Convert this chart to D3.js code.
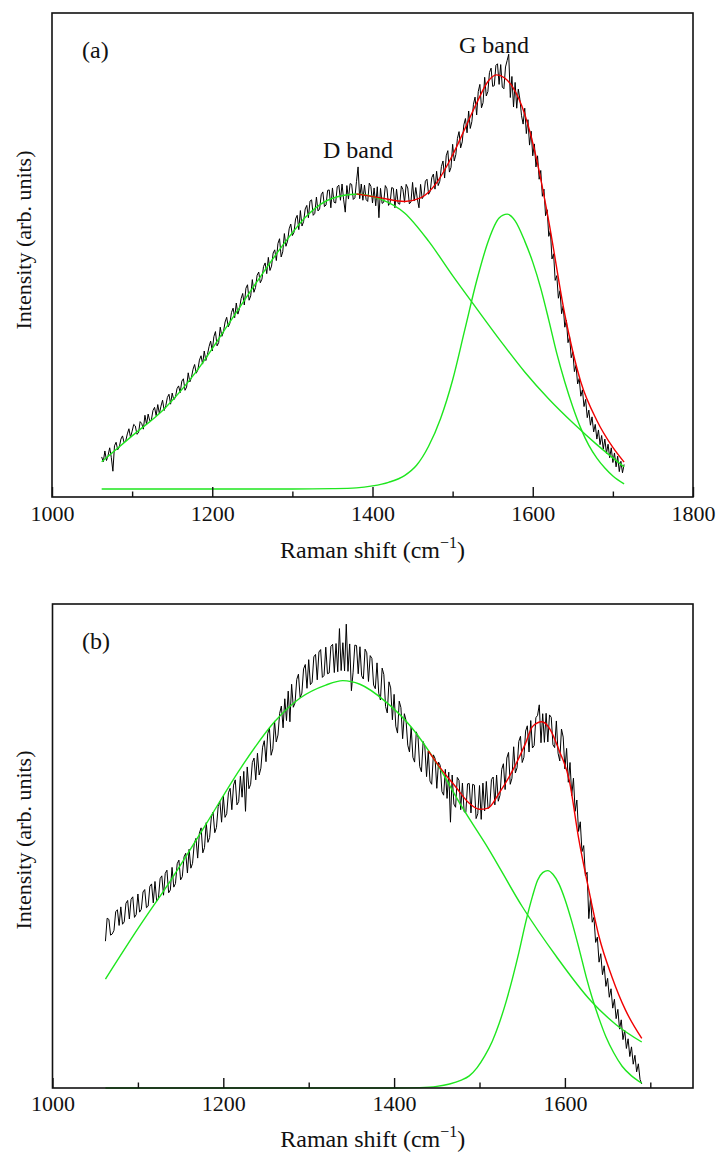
<!DOCTYPE html>
<html>
<head>
<meta charset="utf-8">
<script src="https://cdn.jsdelivr.net/npm/d3@7"></script>
<style>
  body { margin: 0; background: #fff; }
  svg text { font-family: "Liberation Serif", Tinos, "Times New Roman", Times, "DejaVu Serif", "Noto Serif", serif; fill: #111; }
</style>
</head>
<body>
<svg id="chart" width="720" height="1154"></svg>
<script>
// raman spectra, two panels, each with D / G band fits
const FONT = '"Liberation Serif", Tinos, "Times New Roman", Times, "DejaVu Serif", "Noto Serif", serif';

// panel (a) measured spectrum, one value every 2 cm-1 from 1062
const startA = 1062;
const spectrumA = [
  8.1, 6.9, 9.6, 7.2,
  8.5, 10.4, 8.0, 4.5, 10.9,
  11.8, 9.9, 10.6, 12.6, 13.4,
  11.7, 12.1, 13.9, 15.2, 13.0,
  14.6, 16.3, 15.9, 13.8, 14.2,
  17.0, 16.5, 15.1, 18.6, 16.3,
  18.9, 17.2, 17.4, 19.8, 20.6,
  18.5, 21.3, 19.0, 20.9, 22.4,
  19.8, 21.0, 23.1, 23.9, 21.4,
  24.2, 22.5, 23.1, 25.3, 26.0,
  24.3, 27.2, 27.8, 24.9, 25.7,
  29.3, 27.0, 28.1, 30.2, 31.4,
  29.2, 30.0, 32.5, 33.6, 31.5,
  34.8, 32.4, 33.9, 35.9, 37.3,
  34.8, 38.4, 39.7, 36.1, 36.9,
  40.8, 38.5, 39.6, 42.1, 43.3,
  40.9, 41.8, 44.5, 45.6, 43.2,
  46.9, 44.1, 45.5, 48.0, 49.3,
  46.4, 50.6, 51.5, 47.6, 48.7,
  52.8, 49.6, 50.8, 53.9, 54.7,
  52.0, 52.9, 56.1, 57.0, 54.3,
  58.4, 55.1, 56.2, 59.5, 60.3,
  57.6, 61.9, 63.1, 58.5, 59.8,
  64.4, 61.2, 62.5, 65.6, 66.8,
  63.9, 64.7, 68.1, 69.0, 65.4,
  70.2, 66.3, 67.4, 70.6, 71.5,
  68.4, 72.6, 72.9, 69.0, 69.5,
  73.6, 70.1, 70.6, 74.2, 74.9,
  71.2, 71.6, 75.3, 75.4, 70.9,
  75.9, 72.3, 72.1, 76.2, 76.6,
  72.8, 76.9, 72.9, 69.8, 76.5,
  73.1, 77.0, 76.8, 73.0, 73.4,
  77.5, 81.2, 73.2, 76.9, 72.8,
  76.6, 73.0, 72.5, 77.1, 76.3,
  72.1, 75.9, 71.4, 76.2, 68.4,
  75.8, 72.0, 72.3, 76.5, 75.7,
  71.5, 72.2, 76.0, 75.8, 70.9,
  75.6, 72.0, 71.8, 76.4, 75.5,
  72.3, 76.8, 75.9, 71.9, 72.4,
  77.3, 72.6, 76.0, 73.1, 70.9,
  76.8, 73.2, 73.9, 77.6, 78.1,
  74.3, 75.0, 78.5, 79.4, 75.6,
  80.1, 76.5, 77.6, 81.3, 82.7,
  78.4, 84.0, 85.3, 79.9, 81.1,
  86.9, 82.7, 84.3, 88.4, 90.1,
  86.0, 87.5, 91.8, 93.4, 89.8,
  95.3, 90.9, 92.6, 97.0, 98.8,
  94.3, 100.2, 102.0, 96.1, 97.4,
  103.8, 99.1, 100.2, 105.0, 106.1,
  101.5, 101.7, 106.8, 107.2, 102.0,
  107.0, 101.3, 100.9, 106.4, 108.0,
  109.6, 98.7, 104.0, 96.3, 102.5,
  96.0, 100.8, 98.2, 94.1, 92.0,
  96.0, 89.6, 93.1, 86.7, 90.2,
  84.0, 87.0, 81.2, 84.0, 78.1,
  80.3, 73.8, 75.6, 68.9, 70.4,
  63.7, 65.1, 58.0, 59.3, 52.6,
  53.8, 48.1, 50.0, 44.2, 46.1,
  40.8, 42.6, 36.9, 38.4, 33.1,
  34.6, 29.6, 31.2, 26.5, 27.9,
  23.4, 25.0, 20.8, 22.6, 18.0,
  19.9, 16.1, 18.2, 14.4, 16.3,
  12.6, 14.9, 11.2, 13.5, 10.1,
  12.6, 9.0, 11.3, 7.9, 10.4,
  6.7, 9.1, 5.6, 8.3, 4.4,
  7.0, 4.1, 6.2
];

// panel (a) fitted curves
const dFitShiftA = [1062, 1100, 1140, 1180, 1220, 1260, 1290, 1320, 1350, 1380, 1410, 1440, 1470, 1500, 1530, 1560, 1590, 1620, 1650, 1680, 1714];
const dFitA = [6.9, 13.4, 20.2, 29.6, 41.5, 53.5, 62, 69.3, 73.3, 74.3, 73.1, 69.6, 62.5, 53.8, 45.5, 37.3, 29.5, 22.7, 16.7, 11.2, 5.6];
const gFitShiftA = [1062, 1300, 1350, 1380, 1400, 1420, 1440, 1455, 1470, 1485, 1500, 1515, 1530, 1545, 1558, 1568, 1578, 1590, 1600, 1610, 1620, 1630, 1640, 1650, 1660, 1670, 1680, 1690, 1700, 1714];
const gFitA = [0, 0, 0.1, 0.3, 0.8, 1.7, 3.4, 6.0, 10.8, 17.8, 27.5, 40, 52.5, 62.8, 68.3, 69.3, 67.6, 62.5, 57.2, 50.6, 42.6, 34.2, 27.0, 20.7, 15.3, 11.0, 7.8, 5.3, 3.3, 1.3];
const sumFitShiftA = [1380, 1410, 1440, 1460, 1480, 1500, 1515, 1530, 1545, 1555, 1565, 1575, 1590, 1605, 1620, 1640, 1660, 1680, 1700, 1714];
const sumFitA = [74.4, 73.4, 72.5, 73.4, 77.2, 84.2, 90.7, 97.3, 103, 104.4, 103.6, 101.3, 94.5, 83, 67.5, 44, 27, 17.3, 10.5, 6.8];

// panel (b) measured spectrum, one value every 2 cm-1 from 1062
const startB = 1062;
const spectrumB = [
  36.4, 42.1, 41.8, 37.9,
  38.2, 39.1, 43.7, 44.2, 40.3,
  44.9, 40.6, 41.2, 45.8, 46.5,
  41.9, 46.8, 47.4, 42.3, 43.0,
  48.1, 43.6, 44.3, 48.6, 49.2,
  44.7, 45.1, 50.0, 50.6, 45.9,
  51.2, 46.3, 47.0, 51.9, 52.6,
  47.8, 53.2, 54.0, 48.4, 49.1,
  54.7, 49.8, 50.7, 55.6, 56.5,
  51.6, 52.4, 57.3, 58.2, 53.3,
  59.2, 54.5, 55.7, 60.6, 61.9,
  57.0, 63.2, 64.5, 58.3, 59.6,
  65.8, 60.9, 62.1, 67.2, 68.4,
  63.3, 64.6, 69.8, 71.1, 65.9,
  72.4, 67.1, 68.0, 73.2, 74.3,
  69.0, 75.1, 76.4, 70.2, 71.0,
  77.3, 72.1, 78.5, 68.6, 79.6,
  74.2, 75.3, 80.7, 81.8, 76.4,
  83.0, 77.6, 79.3, 84.5, 86.1,
  80.9, 87.8, 89.3, 82.5, 84.1,
  91.0, 85.8, 87.5, 92.9, 94.7,
  89.3, 96.5, 91.1, 98.4, 90.8,
  100.1, 94.4, 95.5, 101.3, 102.6,
  96.8, 97.9, 103.9, 105.0, 99.1,
  106.2, 100.0, 100.6, 106.9, 107.5,
  101.2, 108.1, 108.7, 101.8, 102.3,
  109.3, 102.7, 102.9, 109.5, 110.0,
  103.0, 110.2, 103.2, 113.9, 103.5,
  110.4, 103.4, 115.0, 103.3, 110.1,
  98.5, 103.1, 109.8, 109.7, 102.7,
  109.4, 102.2, 101.4, 108.8, 107.9,
  100.8, 107.2, 106.5, 99.9, 99.0,
  105.4, 97.9, 96.2, 104.1, 102.5,
  94.6, 93.0, 100.7, 99.2, 91.3,
  97.6, 89.7, 88.0, 95.9, 94.3,
  86.6, 92.8, 91.1, 85.0, 83.3,
  89.5, 82.0, 80.8, 88.3, 87.0,
  79.7, 78.4, 85.9, 84.6, 77.2,
  83.5, 76.1, 75.3, 82.6, 81.7,
  74.3, 80.8, 80.0, 73.5, 72.6,
  79.0, 71.8, 78.3, 65.9, 77.6,
  70.4, 69.6, 77.0, 76.3, 69.0,
  75.6, 68.5, 68.3, 75.4, 75.5,
  68.2, 75.3, 75.1, 66.8, 68.0,
  75.0, 66.6, 75.6, 68.7, 76.0,
  69.3, 69.7, 76.5, 77.1, 70.2,
  77.6, 71.1, 72.6, 79.0, 80.4,
  74.0, 81.8, 83.2, 75.3, 76.8,
  84.6, 78.1, 79.4, 85.9, 87.2,
  80.7, 82.0, 88.5, 89.8, 83.3,
  91.1, 84.3, 84.9, 91.8, 92.4,
  95.0, 85.6, 92.8, 85.7, 92.9,
  85.8, 92.5, 91.9, 85.1, 84.4,
  91.0, 83.0, 81.1, 89.0, 87.0,
  79.1, 84.2, 75.8, 80.7, 72.5,
  76.8, 68.6, 71.4, 63.6, 66.0,
  58.6, 60.1, 52.6, 53.5, 42.0,
  47.2, 41.1, 42.3, 36.1, 37.4,
  31.2, 33.3, 28.1, 30.3, 25.2,
  27.2, 22.5, 24.6, 19.8, 22.0,
  17.2, 19.5, 14.6, 16.9, 12.0,
  14.3, 9.8, 12.2, 7.8, 10.2,
  5.9, 8.1, 4.0, 6.0, 2.1,
  1.0
];

// panel (b) fitted curves
const dFitShiftB = [1062, 1100, 1140, 1180, 1220, 1260, 1290, 1320, 1340, 1360, 1390, 1420, 1450, 1480, 1510, 1550, 1590, 1630, 1660, 1690];
const dFitB = [27, 39.5, 52, 65.5, 79.2, 90.8, 96.7, 99.9, 101, 100.1, 95.8, 89.5, 80.5, 69.5, 59.5, 45, 32.6, 21.7, 15.7, 11.4];
const gFitShiftB = [1062, 1400, 1430, 1450, 1465, 1478, 1488, 1497, 1506, 1515, 1523, 1531, 1539, 1546, 1554, 1562, 1568, 1574, 1580, 1586, 1593, 1600, 1608, 1617, 1625, 1632, 1640, 1648, 1657, 1667, 1678, 1690];
const gFitB = [0, 0, 0.1, 0.4, 1.0, 1.9, 3.0, 5.0, 7.9, 11.6, 16, 21.3, 27.5, 33.5, 41, 47.5, 51.5, 53.4, 53.9, 53, 50.6, 46.8, 41.3, 34.2, 27.5, 22.3, 17.2, 12.7, 8.8, 5.4, 3.0, 1.2];
const sumFitShiftB = [1440, 1453, 1472, 1488, 1500, 1510, 1523, 1539, 1554, 1562, 1573, 1583, 1593, 1605, 1616, 1628, 1640, 1655, 1671, 1690];
const sumFitB = [83.6, 79.7, 74.7, 70.6, 69.1, 69.4, 73.1, 78.8, 85.5, 89.6, 90.8, 88.8, 83.8, 76.4, 62, 49.1, 37.5, 27.6, 19.3, 12.3];

// tick labels
const majorTicksA = [1000, 1200, 1400, 1600, 1800];
const majorTicksB = [1000, 1200, 1400, 1600];
const minorTicks = [1100, 1300, 1500, 1700];

const svg = d3.select("#chart");
const zip = (xs, ys) => xs.map((x, i) => ({ x: x, y: ys[i] }));
const sampled = (start, ys) => ys.map((y, i) => ({ x: start + 2 * i, y: y }));

function drawPanel(p) {
  const x = d3.scaleLinear().domain(p.xDomain).range([p.left, p.right]);
  const y = d3.scaleLinear().domain(p.yDomain).range([p.bottom, p.top]);
  const g = svg.append("g");

  const line = d3.line().x(d => x(d.x)).y(d => y(d.y));
  const smooth = d3.line().x(d => x(d.x)).y(d => y(d.y)).curve(d3.curveMonotoneX);

  // data first, fits on top
  g.append("path")
    .attr("d", line(p.spectrum))
    .attr("fill", "none").attr("stroke", "#000").attr("stroke-width", 1);

  p.fits.forEach(f => {
    g.append("path")
      .attr("d", smooth(zip(f.shift, f.values)))
      .attr("fill", "none").attr("stroke", f.color).attr("stroke-width", 1.4);
  });

  // box
  g.append("rect")
    .attr("x", p.left).attr("y", p.top)
    .attr("width", p.right - p.left).attr("height", p.bottom - p.top)
    .attr("fill", "none").attr("stroke", "#111").attr("stroke-width", 1.6);

  // x axis, ticks inside
  const major = g.append("g").attr("transform", `translate(0,${p.bottom})`)
    .call(d3.axisBottom(x).tickValues(p.major).tickSize(-10).tickPadding(p.tickPad).tickFormat(d3.format("d")));
  const minor = g.append("g").attr("transform", `translate(0,${p.bottom})`)
    .call(d3.axisBottom(x).tickValues(minorTicks).tickSize(-5.5).tickFormat(""));
  [major, minor].forEach(a => {
    a.attr("font-family", FONT);
    a.select(".domain").remove();
    a.selectAll("line").attr("stroke", "#111").attr("stroke-width", 1.4);
  });
  major.selectAll("text")
    .style("font-family", FONT)
    .style("font-size", "22px").attr("fill", "#111");

  // axis titles
  const xl = g.append("text")
    .attr("x", (p.left + p.right) / 2).attr("y", p.xLabelY)
    .attr("text-anchor", "middle").style("font-family", FONT).style("font-size", "24px");
  xl.append("tspan").text("Raman shift (cm");
  xl.append("tspan").text("\u22121").style("font-size", "16px").attr("dy", -10);
  xl.append("tspan").text(")").attr("dy", 10);

  g.append("text")
    .attr("transform", `translate(31,${p.yLabelY}) rotate(-90)`)
    .attr("text-anchor", "middle").style("font-family", FONT).style("font-size", "22px")
    .text("Intensity (arb. units)");

  g.append("text").attr("x", 82).attr("y", p.letterY)
    .style("font-family", FONT).style("font-size", "24px").text(p.letter);

  p.notes.forEach(n => {
    g.append("text").attr("x", n.x).attr("y", n.y)
      .style("font-family", FONT).style("font-size", "24px").text(n.text);
  });
}

drawPanel({
  left: 52, right: 693, top: 13, bottom: 497,
  xDomain: [1000, 1800], yDomain: [-2, 120],
  major: majorTicksA, tickPad: 8.5,
  spectrum: sampled(startA, spectrumA),
  fits: [
    { shift: dFitShiftA, values: dFitA, color: "#1ee61e" },
    { shift: gFitShiftA, values: gFitA, color: "#1ee61e" },
    { shift: sumFitShiftA, values: sumFitA, color: "#f00000" }
  ],
  xLabelY: 558, yLabelY: 240, letter: "(a)", letterY: 58,
  notes: [{ x: 323, y: 158, text: "D band" }, { x: 459, y: 53, text: "G band" }]
});

drawPanel({
  left: 52.5, right: 693, top: 604, bottom: 1088,
  xDomain: [1000, 1750], yDomain: [0, 120],
  major: majorTicksB, tickPad: 7,
  spectrum: sampled(startB, spectrumB),
  fits: [
    { shift: dFitShiftB, values: dFitB, color: "#1ee61e" },
    { shift: gFitShiftB, values: gFitB, color: "#1ee61e" },
    { shift: sumFitShiftB, values: sumFitB, color: "#f00000" }
  ],
  xLabelY: 1147, yLabelY: 840, letter: "(b)", letterY: 649,
  notes: []
});
</script>
</body>
</html>
